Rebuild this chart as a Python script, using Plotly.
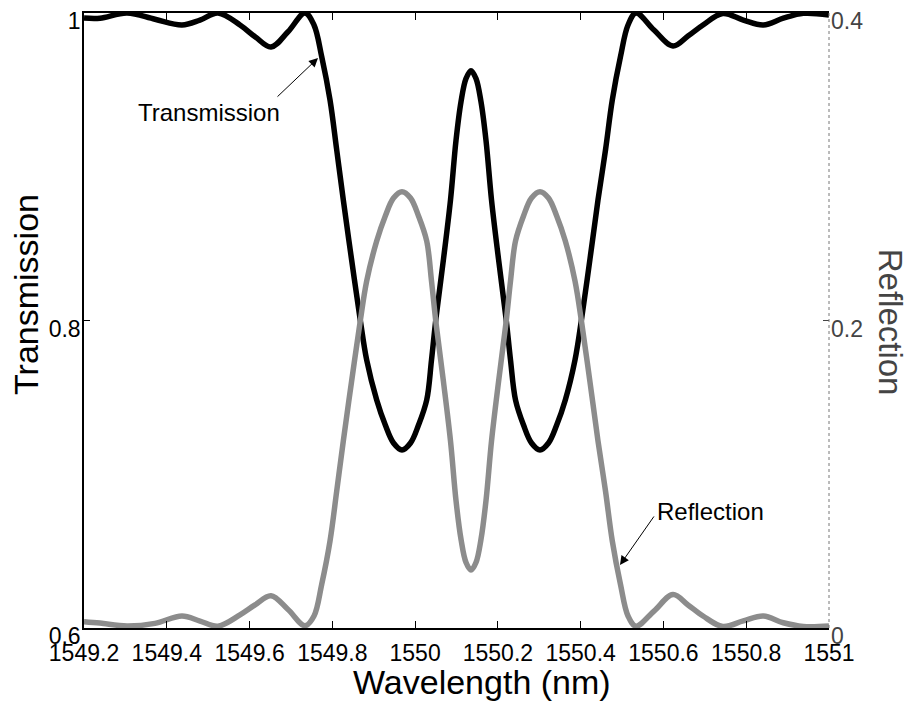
import plotly.graph_objects as go

# ---- data ----
wavelength = [
    1549.2000, 1549.2387, 1549.3039, 1549.3715, 1549.4368, 1549.4803, 1549.5238,
    1549.5769, 1549.6132, 1549.6518, 1549.6929, 1549.7340, 1549.7557, 1549.7743,
    1549.7944, 1549.8106, 1549.8265, 1549.8463, 1549.8668, 1549.8830, 1549.9072,
    1549.9280, 1549.9478, 1549.9683, 1549.9889, 1550.0082, 1550.0280, 1550.0396,
    1550.0505, 1550.0686, 1550.0855, 1550.0988, 1550.1109, 1550.1230, 1550.1350,
    1550.1471, 1550.1592, 1550.1713, 1550.1846, 1550.2015, 1550.2196, 1550.2305,
    1550.2426, 1550.2619, 1550.2812, 1550.3017, 1550.3223, 1550.3421, 1550.3629,
    1550.3863, 1550.4025, 1550.4225, 1550.4419, 1550.4600, 1550.4764, 1550.4962,
    1550.5144, 1550.5337, 1550.5772, 1550.6231, 1550.6593, 1550.6956, 1550.7432,
    1550.7929, 1550.8413, 1550.8896, 1550.9379, 1551.0000,
]

transmission = [
    0.9967, 0.9966, 1.0000, 0.9959, 0.9922, 0.9954, 1.0000,
    0.9922, 0.9846, 0.9779, 0.9878, 1.0000, 0.9922, 0.9716,
    0.9434, 0.9109, 0.8784, 0.8400, 0.8016, 0.7743, 0.7483,
    0.7320, 0.7203, 0.7158, 0.7203, 0.7320, 0.7483, 0.7743,
    0.8016, 0.8400, 0.8784, 0.9171, 0.9423, 0.9574, 0.9625,
    0.9574, 0.9423, 0.9171, 0.8784, 0.8400, 0.8016, 0.7743,
    0.7483, 0.7320, 0.7203, 0.7158, 0.7203, 0.7320, 0.7483,
    0.7743, 0.8016, 0.8400, 0.8784, 0.9109, 0.9434, 0.9716,
    0.9922, 1.0000, 0.9889, 0.9785, 0.9850, 0.9922, 0.9997,
    0.9954, 0.9922, 0.9966, 0.9998, 0.9987,
]

reflection = [
    0.0041, 0.0032, 0.0013, 0.0030, 0.0078, 0.0045, 0.0012,
    0.0085, 0.0150, 0.0210, 0.0120, 0.0015, 0.0078, 0.0284,
    0.0566, 0.0891, 0.1216, 0.1600, 0.1984, 0.2257, 0.2517,
    0.2680, 0.2797, 0.2838, 0.2797, 0.2680, 0.2517, 0.2257,
    0.1984, 0.1600, 0.1216, 0.0829, 0.0577, 0.0426, 0.0377,
    0.0426, 0.0577, 0.0829, 0.1216, 0.1600, 0.1984, 0.2257,
    0.2517, 0.2680, 0.2797, 0.2838, 0.2797, 0.2680, 0.2517,
    0.2257, 0.1984, 0.1600, 0.1216, 0.0891, 0.0566, 0.0284,
    0.0078, 0.0012, 0.0110, 0.0218, 0.0150, 0.0078, 0.0010,
    0.0046, 0.0078, 0.0034, 0.0010, 0.0013,
]

x_ticks = [1549.2, 1549.4, 1549.6, 1549.8, 1550.0, 1550.2, 1550.4, 1550.6, 1550.8, 1551.0]
x_tick_labels = ["1549.2", "1549.4", "1549.6", "1549.8", "1550",
                 "1550.2", "1550.4", "1550.6", "1550.8", "1551"]
y_ticks = [0.6, 0.8, 1.0]
y_tick_labels = ["0.6", "0.8", "1"]
y2_ticks = [0.0, 0.2, 0.4]
y2_tick_labels = ["0", "0.2", "0.4"]

FONT = "Liberation Sans, Arial, Helvetica, sans-serif"

fig = go.Figure()
fig.add_trace(go.Scatter(
    x=wavelength, y=transmission, mode="lines", name="Transmission",
    line=dict(color="black", width=5.5, shape="spline", smoothing=1.0),
    yaxis="y", showlegend=False, hoverinfo="skip"))
fig.add_trace(go.Scatter(
    x=wavelength, y=reflection, mode="lines", name="Reflection",
    line=dict(color="#8c8c8c", width=5.5, shape="spline", smoothing=1.0),
    yaxis="y2", showlegend=False, hoverinfo="skip"))

fig.update_layout(
    width=909, height=701,
    margin=dict(l=84, r=80, t=13, b=73, autoexpand=False),
    paper_bgcolor="white", plot_bgcolor="white",
    font=dict(family=FONT, color="black"),
    xaxis=dict(
        range=[1549.2, 1551.0], tickvals=x_ticks, ticktext=x_tick_labels,
        ticks="inside", ticklen=7, tickwidth=1, tickcolor="black",
        showline=True, linecolor="black", linewidth=1.5, mirror="ticks",
        showgrid=False, zeroline=False, automargin=False,
        tickfont=dict(size=23, family=FONT, color="black"),
        ticklabelstandoff=4, ticklabeloverflow="allow",
    ),
    yaxis=dict(
        range=[0.6, 1.0], tickvals=y_ticks, ticktext=y_tick_labels,
        ticks="inside", ticklen=6, tickwidth=1, tickcolor="black",
        showline=True, linecolor="black", linewidth=1.5,
        showgrid=False, zeroline=False, automargin=False,
        tickfont=dict(size=23, family=FONT, color="black"),
        ticklabelshift=8, ticklabelstandoff=-3, ticklabeloverflow="allow",
    ),
    yaxis2=dict(
        range=[0.0, 0.4], tickvals=y2_ticks, ticktext=y2_tick_labels,
        overlaying="y", side="right",
        ticks="inside", ticklen=6, tickwidth=1, tickcolor="#444",
        showline=False, showgrid=False, zeroline=False, automargin=False,
        tickfont=dict(size=23, family=FONT, color="#444"),
        ticklabelshift=8, ticklabelstandoff=1, ticklabeloverflow="allow",
    ),
    shapes=[dict(type="line", xref="paper", yref="paper", x0=1, x1=1, y0=0, y1=1,
                 line=dict(color="#777", width=1, dash="dot"))],
    annotations=[
        dict(text="Wavelength (nm)", xref="paper", yref="paper", x=0.534, y=-0.088,
             xanchor="center", yanchor="middle", showarrow=False,
             font=dict(size=34, family=FONT, color="black")),
        dict(text="Transmission", xref="paper", yref="paper", x=-0.078, y=0.543,
             xanchor="center", yanchor="middle", textangle=-90, showarrow=False,
             font=dict(size=34, family=FONT, color="black")),
        dict(text="Reflection", xref="paper", yref="paper", x=1.0819, y=0.498,
             xanchor="center", yanchor="middle", textangle=90, showarrow=False,
             font=dict(size=33, family=FONT, color="#444")),
        dict(text="Transmission", xref="x", yref="y", x=1549.502, y=0.9356,
             showarrow=False, font=dict(size=24, family=FONT, color="black")),
        dict(text="Reflection", xref="x", yref="y2", x=1550.7125, y=0.0761,
             showarrow=False, font=dict(size=24, family=FONT, color="black")),
        dict(text="", xref="x", yref="y", x=1549.7654, y=0.9707,
             ax=-42, ay=40, showarrow=True, arrowhead=2, arrowsize=1.8,
             arrowwidth=1, arrowcolor="black", standoff=0, startstandoff=0),
        dict(text="", xref="x", yref="y2", x=1550.495, y=0.041,
             ax=35, ay=-50, showarrow=True, arrowhead=2, arrowsize=1.8,
             arrowwidth=1, arrowcolor="black", standoff=0, startstandoff=0),
    ],
)

fig.write_html("out.html")
